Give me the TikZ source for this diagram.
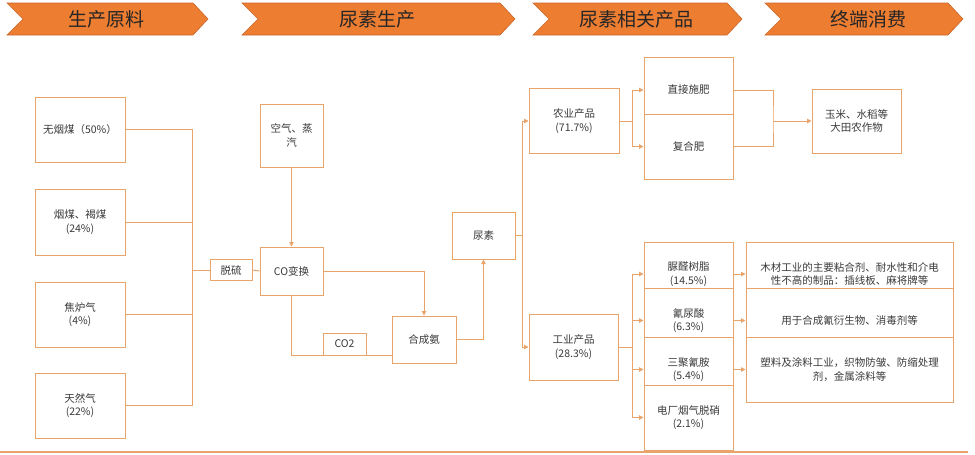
\documentclass[tikz,border=0pt]{standalone}
\usepackage{fontspec}
\newfontfamily\cjk{Noto Sans CJK SC}
\usetikzlibrary{arrows.meta}
\definecolor{boxline}{HTML}{E9A46C}
\definecolor{chevfill}{HTML}{ED7D31}
\definecolor{chevline}{HTML}{C9662A}
\definecolor{txt}{HTML}{3A3A3A}
\begin{document}
\begin{tikzpicture}[x=1pt, y=-1pt,
  box/.style={draw=boxline, fill=white, line width=1pt, inner sep=1pt, align=center,
    font=\cjk\fontsize{10.5}{13.5}\selectfont, text=txt},
  link/.style={draw=boxline, line width=1pt},
  flow/.style={link, -{Triangle[length=4.5pt,width=4.5pt]}},
  chev/.style={fill=chevfill, draw=chevline, line width=0.6pt},
  head/.style={font=\cjk\fontsize{19}{21}\selectfont, text=black!85}]
  \useasboundingbox (0,0) rectangle (975,455);

  \draw[chev] (7,3) -- (193,3) -- (208,19) -- (193,35) -- (7,35) -- (23,19) -- cycle;
  \draw[chev] (242,3) -- (500,3) -- (515,19) -- (500,35) -- (242,35) -- (258,19) -- cycle;
  \draw[chev] (533,3) -- (727,3) -- (742,19) -- (727,35) -- (533,35) -- (549,19) -- cycle;
  \draw[chev] (765,3) -- (948,3) -- (963,19) -- (948,35) -- (765,35) -- (781,19) -- cycle;
  \node[head] (h1) at (106,19) {生产原料};
  \node[head] (h2) at (377,19) {尿素生产};
  \node[head] (h3) at (636,19) {尿素相关产品};
  \node[head] (h4) at (868,19) {终端消费};

  \node[box, minimum width=90, minimum height=65] (wy) at (80,129.5) {无烟煤（50\%）};
  \node[box, minimum width=90, minimum height=66] (ym) at (80,222) {烟煤、褐煤\\(24\%)};
  \node[box, minimum width=90, minimum height=65] (jl) at (80,314.5) {焦炉气\\(4\%)};
  \node[box, minimum width=90, minimum height=65] (tr) at (80,405.5) {天然气\\(22\%)};
  \node[box, minimum width=42, minimum height=21] (ts) at (231,270) {脱硫};
  \node[box, minimum width=63, minimum height=63] (kq) at (291.5,135.5) {空气、蒸\\汽};
  \node[box, minimum width=63, minimum height=48] (co) at (291.5,271) {CO变换};
  \node[box, minimum width=64, minimum height=47] (hca) at (424,339.5) {合成氨};
  \node[box, minimum width=63, minimum height=47] (ns) at (483.5,235.5) {尿素};
  \node[box, minimum width=90, minimum height=65] (ny) at (574,121) {农业产品\\(71.7\%)};
  \node[box, minimum width=89, minimum height=66] (gy) at (573.5,347) {工业产品\\(28.3\%)};
  \node[box, minimum width=89, minimum height=65] (zj) at (688.5,90) {直接施肥};
  \node[box, minimum width=89, minimum height=65] (fh) at (688.5,146.5) {复合肥};
  \node[box, minimum width=89, minimum height=64] (ym2) at (856.5,121) {玉米、水稻等\\大田农作物};
  \node[box, minimum width=89, minimum height=64] (nq) at (688.5,274) {脲醛树脂\\(14.5\%)};
  \node[box, minimum width=89, minimum height=65] (qn) at (688.5,320.5) {氰尿酸\\(6.3\%)};
  \node[box, minimum width=89, minimum height=64] (sj) at (688.5,369.5) {三聚氰胺\\(5.4\%)};
  \node[box, minimum width=89, minimum height=65] (dc) at (688.5,417.5) {电厂烟气脱硝\\(2.1\%)};
  \node[box, minimum width=207, minimum height=64] (u1) at (849.5,274) {木材工业的主要粘合剂、耐水性和介电\\性不高的制品：插线板、麻将牌等};
  \node[box, minimum width=207, minimum height=65] (u2) at (849.5,320.5) {用于合成氰衍生物、消毒剂等};
  \node[box, minimum width=207, minimum height=65] (u3) at (849.5,369.5) {塑料及涂料工业，织物防皱、防缩处理\\剂，金属涂料等};

  \draw[link] (wy.east) -- ++(67,0) coordinate (b1) -- (b1 |- tr.east) -- (tr.east);
  \draw[link] (ym.east) -- (ym.east -| b1);
  \draw[link] (jl.east) -- (jl.east -| b1);
  \draw[link] (ts.west -| b1) -- (ts.west);
  \draw[link] (ts.east) -- (co.west);
  \draw[flow] (kq.south) -- (co.north);
  \draw[flow] (co.east) -| (hca.north);
  \node[box, minimum width=43, minimum height=22] (co2) at (344.5,344) {CO2};
  \draw[link] (co.south) |- (hca.west |- co2.south);
  \draw[flow] (hca.east) -| (ns.south);
  \draw[link] (ns.east) -- ++(7,0) coordinate (b2);
  \draw[flow] (b2) |- (ny.west);
  \draw[flow] (b2) |- (gy.west);
  \draw[link] (ny.east) -- ++(13,0) coordinate (b3);
  \draw[flow] (b3) |- (zj.west);
  \draw[flow] (b3) |- (fh.west);
  \coordinate (b4) at (773,121);
  \draw[link] (zj.east) -| (b4) |- (fh.east);
  \draw[flow] (b4) -- (ym2.west);
  \draw[link] (gy.east) -- ++(14,0) coordinate (b5);
  \draw[flow] (b5) |- (nq.west);
  \draw[flow] (b5) |- (qn.west);
  \draw[flow] (b5) |- (sj.west);
  \draw[flow] (b5) |- (dc.west);
  \draw[flow] (nq.east) -- (u1.west);
  \draw[flow] (qn.east) -- (u2.west);
  \draw[flow] (sj.east) -- (u3.west);

  \draw[boxline, line width=1.2pt] (0,452) -- (968,452);
\end{tikzpicture}
\end{document}
